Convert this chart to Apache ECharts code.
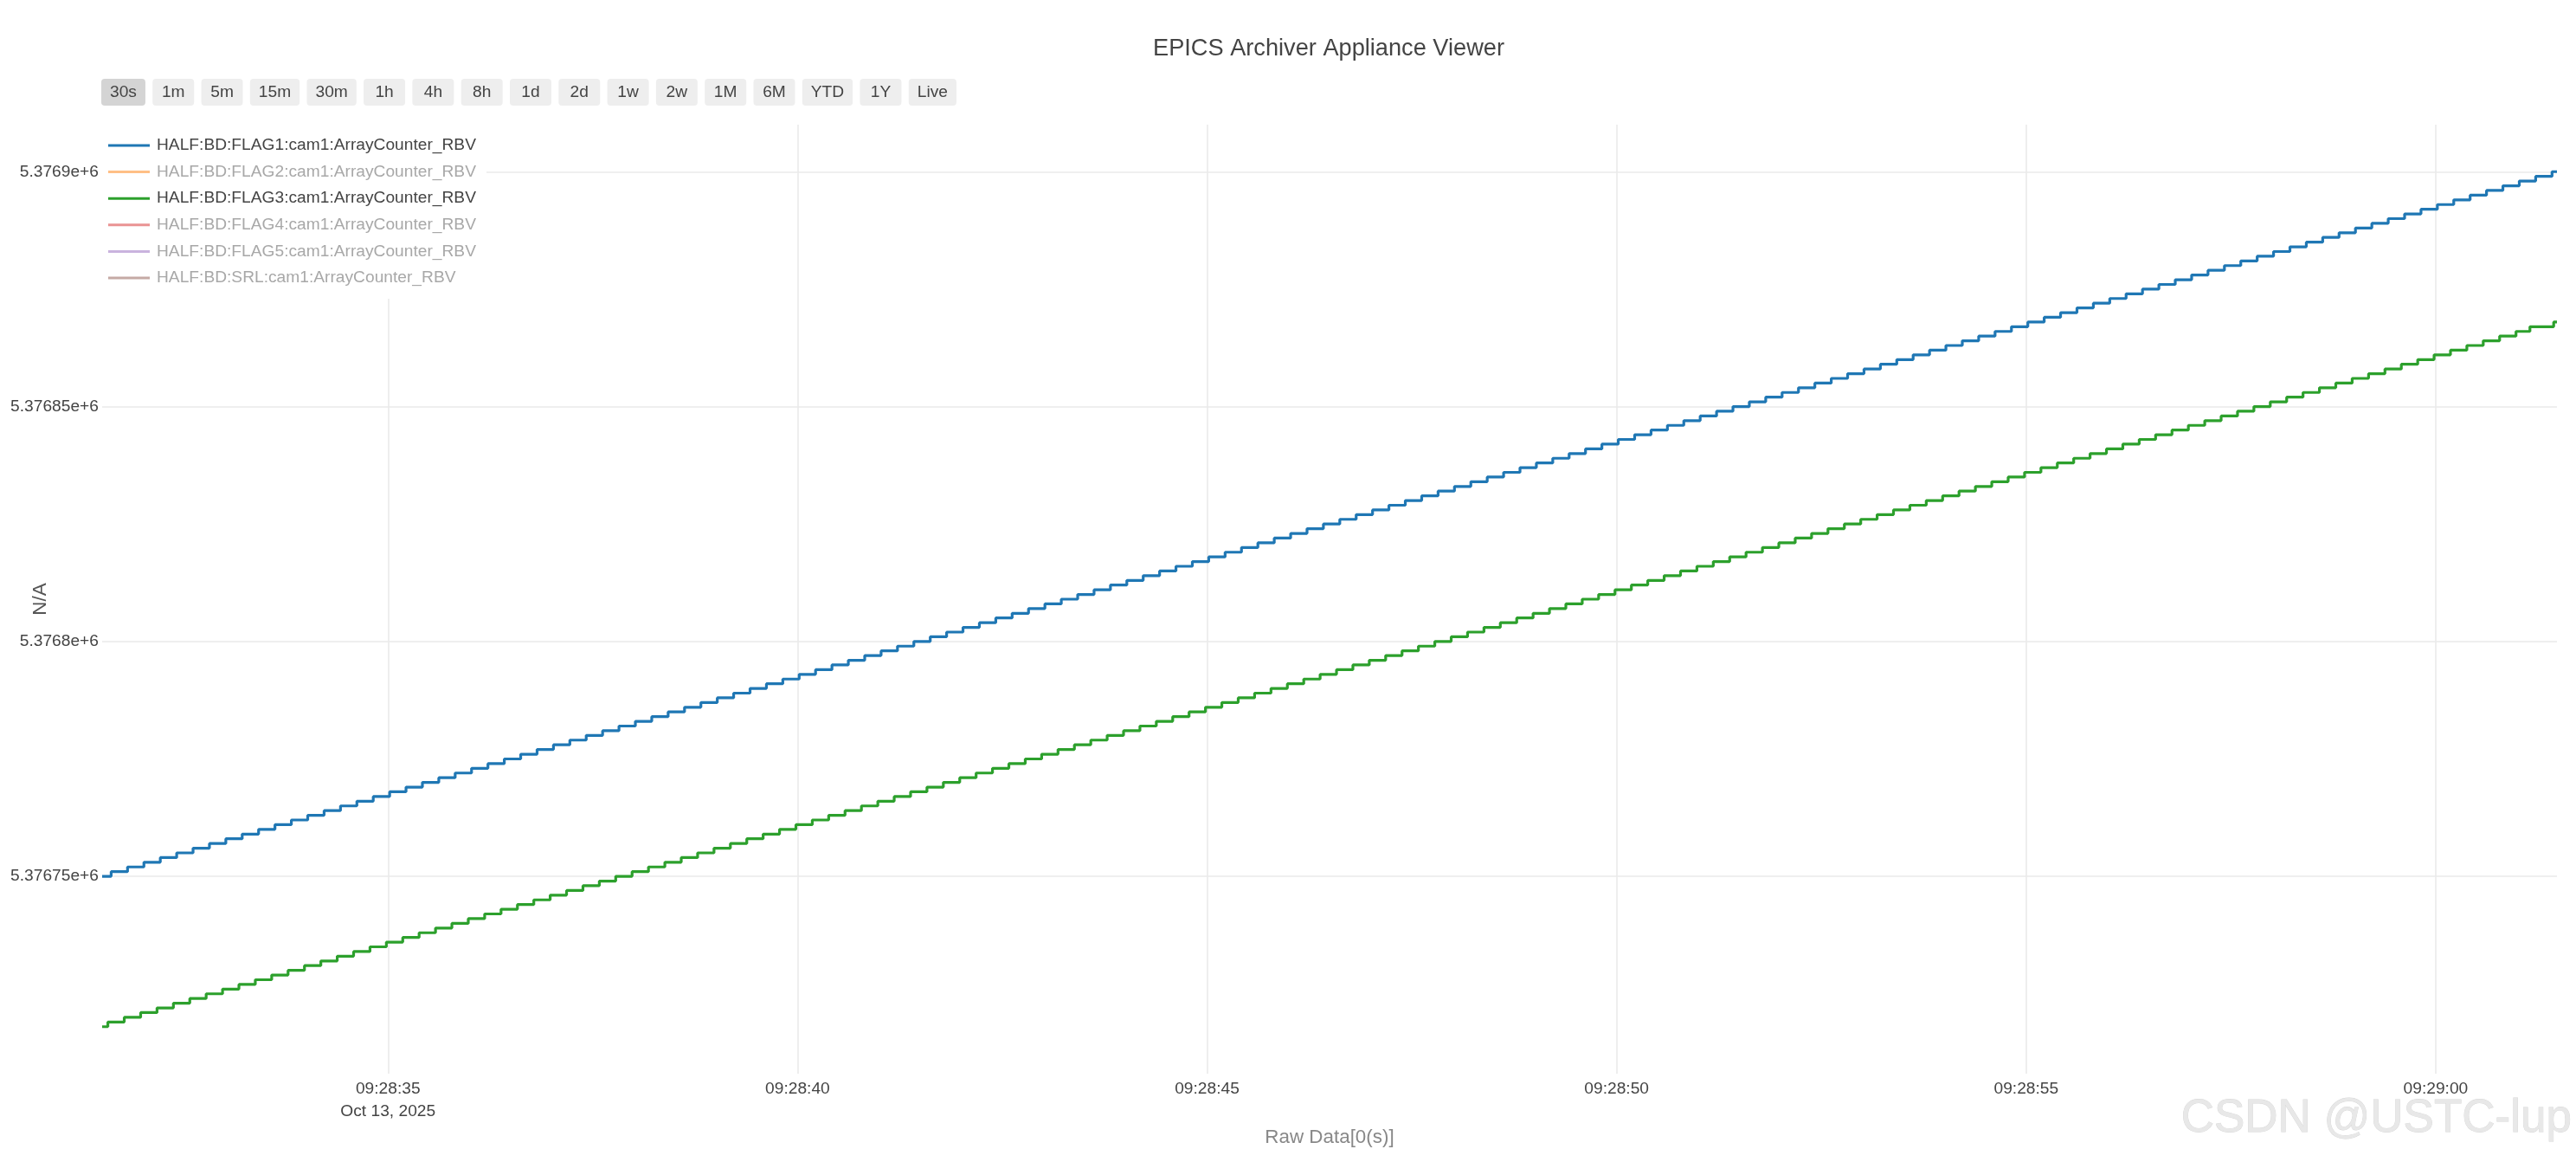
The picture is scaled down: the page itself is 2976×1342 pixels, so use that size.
<!DOCTYPE html>
<html>
<head>
<meta charset="utf-8">
<script src="https://cdn.jsdelivr.net/npm/echarts@6/dist/echarts.min.js"></script>
<style>
  html, body { margin: 0; padding: 0; background: #ffffff; }
  #chart { width: 2976px; height: 1342px; }
</style>
</head>
<body>
<div id="chart"></div>
<script>
// ---------------- data ----------------
const chartTitle = 'EPICS Archiver Appliance Viewer';
const seriesNames = [
  'HALF:BD:FLAG1:cam1:ArrayCounter_RBV',
  'HALF:BD:FLAG2:cam1:ArrayCounter_RBV',
  'HALF:BD:FLAG3:cam1:ArrayCounter_RBV',
  'HALF:BD:FLAG4:cam1:ArrayCounter_RBV',
  'HALF:BD:FLAG5:cam1:ArrayCounter_RBV',
  'HALF:BD:SRL:cam1:ArrayCounter_RBV'
];
const seriesShown = [true, false, true, false, false, false];
const rangeButtons = ['30s', '1m', '5m', '15m', '30m', '1h', '4h', '8h', '1d', '2d', '1w', '2w', '1M', '6M', 'YTD', '1Y', 'Live'];
const activeButton = '30s';
const dateLabel = 'Oct 13, 2025';
const xAxisTitle = 'Raw Data[0(s)]';
const yAxisTitle = 'N/A';
const watermarkText = 'CSDN @USTC-lup';

// sample times in seconds after 2025-10-13 09:28:00
const flag1Time = [
  31.51,
  31.62, 31.82,
  32.02, 32.22, 32.42, 32.62, 32.82,
  33.02, 33.22, 33.42, 33.62, 33.82,
  34.02, 34.22, 34.42, 34.62, 34.82,
  35.02, 35.22, 35.42, 35.62, 35.82,
  36.02, 36.22, 36.42, 36.62, 36.82,
  37.02, 37.22, 37.42, 37.62, 37.82,
  38.02, 38.22, 38.42, 38.62, 38.82,
  39.02, 39.22, 39.42, 39.62, 39.82,
  40.02, 40.22, 40.42, 40.62, 40.82,
  41.02, 41.22, 41.42, 41.62, 41.82,
  42.02, 42.22, 42.42, 42.62, 42.82,
  43.02, 43.22, 43.42, 43.62, 43.82,
  44.02, 44.22, 44.42, 44.62, 44.82,
  45.02, 45.22, 45.42, 45.62, 45.82,
  46.02, 46.22, 46.42, 46.62, 46.82,
  47.02, 47.22, 47.42, 47.62, 47.82,
  48.02, 48.22, 48.42, 48.62, 48.82,
  49.02, 49.22, 49.42, 49.62, 49.82,
  50.02, 50.22, 50.42, 50.62, 50.82,
  51.02, 51.22, 51.42, 51.62, 51.82,
  52.02, 52.22, 52.42, 52.62, 52.82,
  53.02, 53.22, 53.42, 53.62, 53.82,
  54.02, 54.22, 54.42, 54.62, 54.82,
  55.02, 55.22, 55.42, 55.62, 55.82,
  56.02, 56.22, 56.42, 56.62, 56.82,
  57.02, 57.22, 57.42, 57.62, 57.82,
  58.02, 58.22, 58.42, 58.62, 58.82,
  59.02, 59.22, 59.42, 59.62, 59.82,
  60.02, 60.22, 60.42, 60.62, 60.82,
  61.02, 61.22, 61.42,
  61.48
];
const flag1Value = [
  5376750,
  5376751, 5376752,
  5376753, 5376754, 5376755, 5376756, 5376757,
  5376758, 5376759, 5376760, 5376761, 5376762,
  5376763, 5376764, 5376765, 5376766, 5376767,
  5376768, 5376769, 5376770, 5376771, 5376772,
  5376773, 5376774, 5376775, 5376776, 5376777,
  5376778, 5376779, 5376780, 5376781, 5376782,
  5376783, 5376784, 5376785, 5376786, 5376787,
  5376788, 5376789, 5376790, 5376791, 5376792,
  5376793, 5376794, 5376795, 5376796, 5376797,
  5376798, 5376799, 5376800, 5376801, 5376802,
  5376803, 5376804, 5376805, 5376806, 5376807,
  5376808, 5376809, 5376810, 5376811, 5376812,
  5376813, 5376814, 5376815, 5376816, 5376817,
  5376818, 5376819, 5376820, 5376821, 5376822,
  5376823, 5376824, 5376825, 5376826, 5376827,
  5376828, 5376829, 5376830, 5376831, 5376832,
  5376833, 5376834, 5376835, 5376836, 5376837,
  5376838, 5376839, 5376840, 5376841, 5376842,
  5376843, 5376844, 5376845, 5376846, 5376847,
  5376848, 5376849, 5376850, 5376851, 5376852,
  5376853, 5376854, 5376855, 5376856, 5376857,
  5376858, 5376859, 5376860, 5376861, 5376862,
  5376863, 5376864, 5376865, 5376866, 5376867,
  5376868, 5376869, 5376870, 5376871, 5376872,
  5376873, 5376874, 5376875, 5376876, 5376877,
  5376878, 5376879, 5376880, 5376881, 5376882,
  5376883, 5376884, 5376885, 5376886, 5376887,
  5376888, 5376889, 5376890, 5376891, 5376892,
  5376893, 5376894, 5376895, 5376896, 5376897,
  5376898, 5376899, 5376900,
  5376900
];
const flag3Time = [
  31.51,
  31.58, 31.78, 31.98,
  32.18, 32.38, 32.58, 32.78, 32.98,
  33.18, 33.38, 33.58, 33.78, 33.98,
  34.18, 34.38, 34.58, 34.78, 34.98,
  35.18, 35.38, 35.58, 35.78, 35.98,
  36.18, 36.38, 36.58, 36.78, 36.98,
  37.18, 37.38, 37.58, 37.78, 37.98,
  38.18, 38.38, 38.58, 38.78, 38.98,
  39.18, 39.38, 39.58, 39.78, 39.98,
  40.18, 40.38, 40.58, 40.78, 40.98,
  41.18, 41.38, 41.58, 41.78, 41.98,
  42.18, 42.38, 42.58, 42.78, 42.98,
  43.18, 43.38, 43.58, 43.78, 43.98,
  44.18, 44.38, 44.58, 44.78, 44.98,
  45.18, 45.38, 45.58, 45.78, 45.98,
  46.18, 46.38, 46.58, 46.78, 46.98,
  47.18, 47.38, 47.58, 47.78, 47.98,
  48.18, 48.38, 48.58, 48.78, 48.98,
  49.18, 49.38, 49.58, 49.78, 49.98,
  50.18, 50.38, 50.58, 50.78, 50.98,
  51.18, 51.38, 51.58, 51.78, 51.98,
  52.18, 52.38, 52.58, 52.78, 52.98,
  53.18, 53.38, 53.58, 53.78, 53.98,
  54.18, 54.38, 54.58, 54.78, 54.98,
  55.18, 55.38, 55.58, 55.78, 55.98,
  56.18, 56.38, 56.58, 56.78, 56.98,
  57.18, 57.38, 57.58, 57.78, 57.98,
  58.18, 58.38, 58.58, 58.78, 58.98,
  59.18, 59.38, 59.58, 59.78, 59.98,
  60.18, 60.38, 60.58, 60.78, 60.98,
  61.15, 61.44,
  61.48
];
const flag3Value = [
  5376718,
  5376719, 5376720, 5376721,
  5376722, 5376723, 5376724, 5376725, 5376726,
  5376727, 5376728, 5376729, 5376730, 5376731,
  5376732, 5376733, 5376734, 5376735, 5376736,
  5376737, 5376738, 5376739, 5376740, 5376741,
  5376742, 5376743, 5376744, 5376745, 5376746,
  5376747, 5376748, 5376749, 5376750, 5376751,
  5376752, 5376753, 5376754, 5376755, 5376756,
  5376757, 5376758, 5376759, 5376760, 5376761,
  5376762, 5376763, 5376764, 5376765, 5376766,
  5376767, 5376768, 5376769, 5376770, 5376771,
  5376772, 5376773, 5376774, 5376775, 5376776,
  5376777, 5376778, 5376779, 5376780, 5376781,
  5376782, 5376783, 5376784, 5376785, 5376786,
  5376787, 5376788, 5376789, 5376790, 5376791,
  5376792, 5376793, 5376794, 5376795, 5376796,
  5376797, 5376798, 5376799, 5376800, 5376801,
  5376802, 5376803, 5376804, 5376805, 5376806,
  5376807, 5376808, 5376809, 5376810, 5376811,
  5376812, 5376813, 5376814, 5376815, 5376816,
  5376817, 5376818, 5376819, 5376820, 5376821,
  5376822, 5376823, 5376824, 5376825, 5376826,
  5376827, 5376828, 5376829, 5376830, 5376831,
  5376832, 5376833, 5376834, 5376835, 5376836,
  5376837, 5376838, 5376839, 5376840, 5376841,
  5376842, 5376843, 5376844, 5376845, 5376846,
  5376847, 5376848, 5376849, 5376850, 5376851,
  5376852, 5376853, 5376854, 5376855, 5376856,
  5376857, 5376858, 5376859, 5376860, 5376861,
  5376862, 5376863, 5376864, 5376865, 5376866,
  5376867, 5376868,
  5376868
];
// hidden (legend-only) traces: no samples drawn in this view
const flag2Time = [], flag2Value = [];
const flag4Time = [], flag4Value = [];
const flag5Time = [], flag5Value = [];
const srlTime = [], srlValue = [];

const xRangeSec = [31.51, 61.48];
const yRange = [5376708, 5376910];

// ---------------- presentation ----------------
const FONT = '"Liberation Sans", Arial, sans-serif';
const FS = 19.2;
const FS_AXIS_TITLE = 22.4;
const palette = ['#1f77b4', '#ff7f0e', '#2ca02c', '#d62728', '#9467bd', '#8c564b'];
const paletteFaded = ['rgba(31,119,180,0.5)', 'rgba(255,127,14,0.5)', 'rgba(44,160,44,0.5)',
                      'rgba(214,39,40,0.5)', 'rgba(148,103,189,0.5)', 'rgba(140,86,75,0.5)'];
const baseMs = Date.UTC(2025, 9, 13, 9, 28, 0);
const toMs = s => baseMs + Math.round(s * 1000);
const seriesTimes = [flag1Time, flag2Time, flag3Time, flag4Time, flag5Time, srlTime];
const seriesValues = [flag1Value, flag2Value, flag3Value, flag4Value, flag5Value, srlValue];

const pad2 = n => String(n).padStart(2, '0');
const xMin = toMs(xRangeSec[0]);
const xMax = toMs(xRangeSec[1]);
function fmtTime(v) {
  const d = new Date(v);
  return pad2(d.getUTCHours()) + ':' + pad2(d.getUTCMinutes()) + ':' + pad2(d.getUTCSeconds());
}

const series = seriesNames.map((name, i) => ({
  name: name,
  type: 'line',
  step: 'end',
  symbol: 'none',
  showSymbol: false,
  color: palette[i],
  lineStyle: { width: 3.2, color: palette[i] },
  data: seriesTimes[i].map((t, j) => [toMs(t), seriesValues[i][j]]),
  z: 3
}));

const legendData = seriesNames.map((name, i) => seriesShown[i]
  ? { name: name }
  : { name: name, itemStyle: { color: paletteFaded[i] }, textStyle: { color: '#a8a8a8' } });

// range selector buttons (drawn as graphics)
const measureCtx = document.createElement('canvas').getContext('2d');
measureCtx.font = FS + 'px "Liberation Sans"';
const buttonEls = [];
let bx = 117;
rangeButtons.forEach(label => {
  const w = Math.max(48, measureCtx.measureText(label).width + 20);
  buttonEls.push({
    type: 'group', x: bx, y: 91,
    children: [
      { type: 'rect', shape: { x: 0, y: 0, width: w, height: 31, r: 4 },
        style: { fill: label === activeButton ? '#d4d4d4' : '#eeeeee' } },
      { type: 'text', x: w / 2, y: 15.5,
        style: { text: label, fontSize: FS, fontFamily: FONT, fill: '#444444',
                 align: 'center', verticalAlign: 'middle', textAlign: 'center', textVerticalAlign: 'middle' } }
    ]
  });
  bx += w + 8.3;
});

const option = {
  animation: false,
  backgroundColor: '#ffffff',
  textStyle: { fontFamily: FONT },
  title: {
    text: chartTitle,
    left: 1327,
    top: 37,
    textStyle: { fontSize: 27.2, fontWeight: 'normal', color: '#444444', fontFamily: FONT, lineHeight: 30 }
  },
  legend: {
    orient: 'vertical',
    left: 118,
    top: 144,
    padding: [14, 12, 14, 7],
    backgroundColor: '#ffffff',
    icon: 'rect',
    itemWidth: 48,
    itemHeight: 3,
    itemGap: 10.6,
    textStyle: { fontSize: FS, color: '#444444', fontFamily: FONT, lineHeight: 20, padding: [0, 0, 0, 3] },
    data: legendData,
    z: 5
  },
  grid: {
    left: 118, right: 22, top: 144, bottom: 102,
    containLabel: false,
    outerBoundsMode: 'none'
  },
  xAxis: {
    type: 'value',
    min: xMin,
    max: xMax,
    splitNumber: 6,
    name: xAxisTitle,
    nameLocation: 'middle',
    nameGap: 63,
    nameMoveOverlap: false,
    nameTextStyle: { fontSize: FS_AXIS_TITLE, color: '#888888', fontFamily: FONT },
    axisLine: { show: false },
    axisTick: { show: false },
    axisLabel: {
      fontSize: FS, color: '#444444', fontFamily: FONT, lineHeight: 26, margin: 5,
      hideOverlap: false,
      formatter: function (v) {
        v = +v;
        if (Math.round(v) % 5000 !== 0) return '';
        const s = fmtTime(v);
        return (v - xMin < 5000) ? s + '\n' + dateLabel : s;
      }
    },
    splitLine: { show: true, showMinLine: false, showMaxLine: false, lineStyle: { color: '#eaeaea', width: 1.6 } }
  },
  yAxis: {
    type: 'value',
    min: yRange[0],
    max: yRange[1],
    scale: true,
    name: yAxisTitle,
    nameLocation: 'middle',
    nameGap: 60,
    nameMoveOverlap: false,
    nameTextStyle: { fontSize: FS_AXIS_TITLE, color: '#555555', fontFamily: FONT },
    axisLine: { show: false },
    axisTick: { show: false },
    axisLabel: {
      fontSize: FS, color: '#444444', fontFamily: FONT, margin: 4,
      formatter: function (v) {
        if (Math.round(v) % 50 !== 0) return '';
        return parseFloat((v / 1e6).toPrecision(6)) + 'e+6';
      }
    },
    splitLine: { show: true, showMinLine: false, showMaxLine: false, lineStyle: { color: '#eaeaea', width: 1.6 } }
  },
  graphic: buttonEls.concat([
    { type: 'text', x: 2971, y: 1292, z: 100,
      style: { text: watermarkText, fontSize: 53, fontFamily: FONT, fill: '#e8e8e8',
               stroke: '#d6d6d6', lineWidth: 0.8,
               align: 'right', verticalAlign: 'middle', textAlign: 'right', textVerticalAlign: 'middle' } }
  ]),
  series: series
};

const chart = echarts.init(document.getElementById('chart'), null, { renderer: 'canvas' });
chart.setOption(option);
</script>
</body>
</html>
